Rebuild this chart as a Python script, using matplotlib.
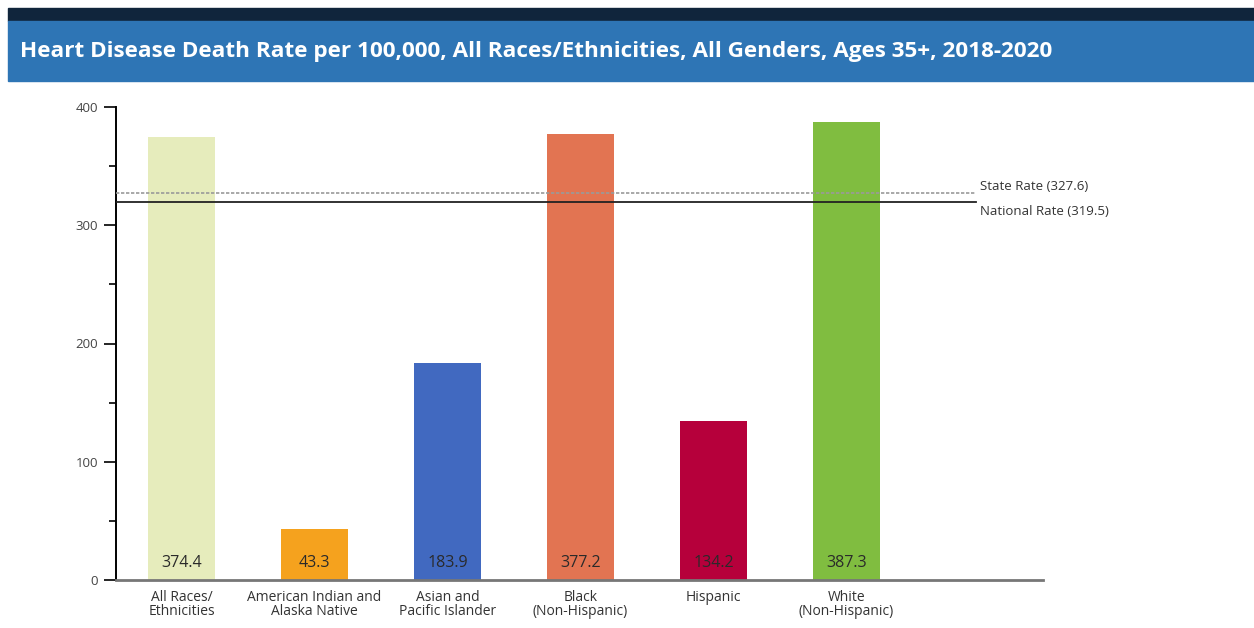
import matplotlib.pyplot as plt
from matplotlib.patches import Rectangle

# Данные
categories = ["All Races/\nEthnicities", "American Indian and\nAlaska Native",
              "Asian and\nPacific Islander", "Black\n(Non-Hispanic)",
              "Hispanic", "White\n(Non-Hispanic)"]
rates = [374.4, 43.3, 183.9, 377.2, 134.2, 387.3]
bar_colors = ["#e6ecbc", "#f5a21e", "#4169c0", "#e27452", "#b6003b", "#80bd40"]
state_rate = 327.6
national_rate = 319.5
title = "Heart Disease Death Rate per 100,000, All Races/Ethnicities, All Genders, Ages 35+, 2018-2020"

plt.rcParams['font.family'] = ['Open Sans', 'DejaVu Sans']

fig = plt.figure(figsize=(12.54, 6.28), dpi=100)

# Шапка с заголовком
fig.patches.append(Rectangle((8 / 1254, 1 - 21 / 628), 1, 13 / 628,
                             transform=fig.transFigure, color="#10253c", zorder=0))
fig.patches.append(Rectangle((8 / 1254, 1 - 81 / 628), 1, 60 / 628,
                             transform=fig.transFigure, color="#2e75b5", zorder=0))
fig.text(20 / 1254, 1 - 52 / 628, title, color="white", fontsize=16.2,
         fontweight="bold", va="center", ha="left")

ax = fig.add_axes([116 / 1254, 48 / 628, 927 / 1254, 473 / 628])
x = list(range(len(rates)))
ax.bar(x, rates, width=0.5, color=bar_colors, zorder=2)

for xi, v in zip(x, rates):
    ax.text(xi, 14, f"{v}", ha="center", va="center", fontsize=11.5, color="#2a2a2a", zorder=3)

# Линии штата и страны
ax.plot([-0.49, 5.97], [state_rate, state_rate], color="#9a9a9a", lw=1.2,
        ls=(0, (2, 1)), zorder=3)
ax.plot([-0.49, 5.97], [national_rate, national_rate], color="#222222", lw=1.3, zorder=3)
ax.text(6.0, 333, f"State Rate ({state_rate})", fontsize=9.5, va="center", ha="left", color="#333333")
ax.text(6.0, 312, f"National Rate ({national_rate})", fontsize=9.5, va="center", ha="left", color="#333333")

ax.set_xlim(-0.4925, 6.477)
ax.set_ylim(0, 400)
ax.set_yticks([0, 100, 200, 300, 400])
ax.set_yticks([50, 150, 250, 350], minor=True)
ax.set_xticks(x)
ax.set_xticklabels(categories, fontsize=10, color="#333333", linespacing=0.95)
ax.tick_params(axis="x", length=0, pad=7)
ax.tick_params(axis="y", which="major", length=9, width=1.2, labelsize=9.5,
               labelcolor="#444444", pad=4)
ax.tick_params(axis="y", which="minor", length=5, width=1.2)

for s in ["top", "right"]:
    ax.spines[s].set_visible(False)
ax.spines["left"].set_linewidth(1.4)
ax.spines["bottom"].set_color("#777777")
ax.spines["bottom"].set_linewidth(2)

fig.savefig("out.png", dpi=100)
